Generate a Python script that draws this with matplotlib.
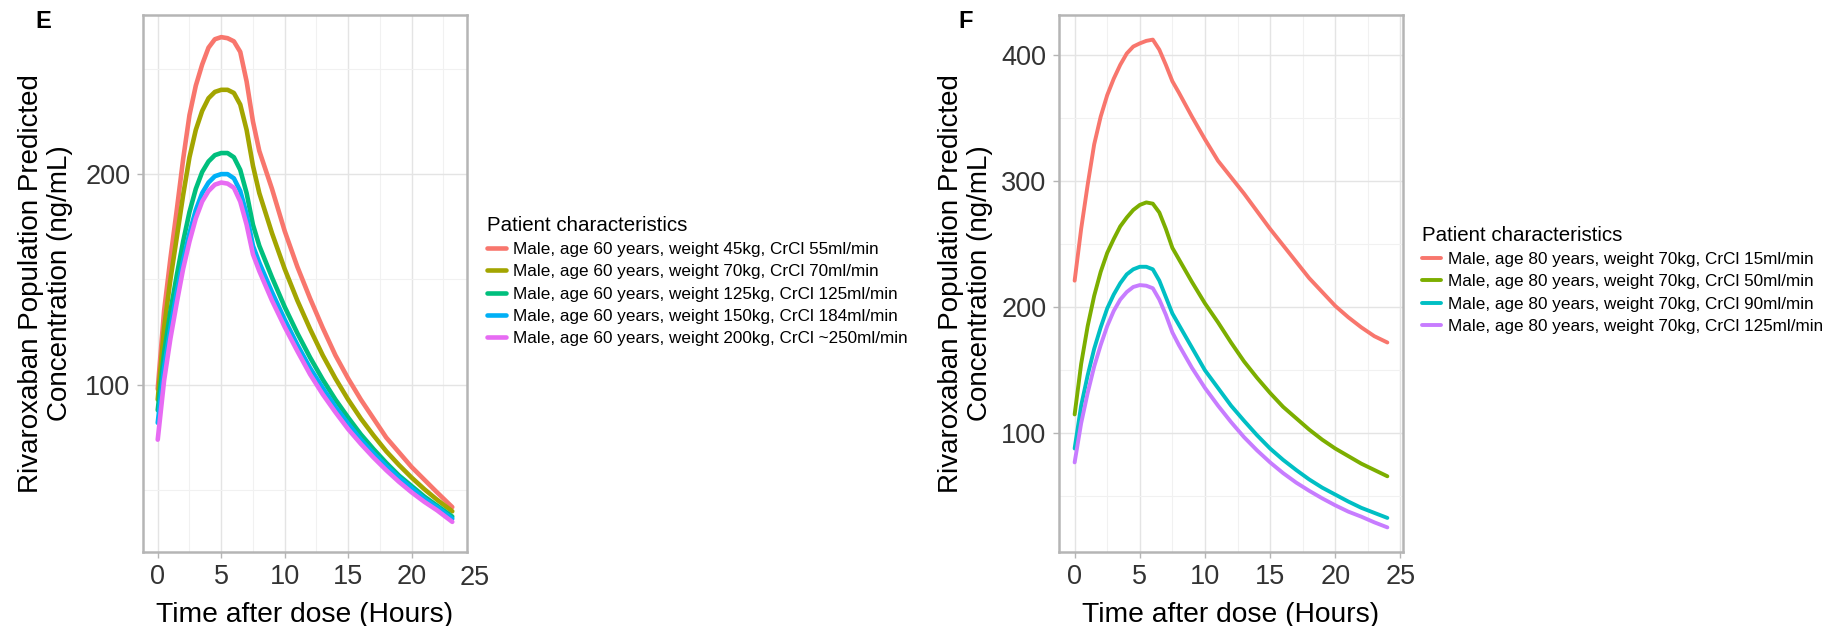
import matplotlib
matplotlib.use("Agg")
import matplotlib.pyplot as plt
from matplotlib.ticker import MultipleLocator

plt.rcParams["font.family"] = ["Liberation Sans", "DejaVu Sans"]

# ---- panel E: age 60, varying weight / CrCl ----
time_e = [0, 0.5, 1, 1.5, 2, 2.5, 3, 3.5, 4, 4.5, 5, 5.5, 6, 6.5, 7, 7.5, 8,
          9, 10, 11, 12, 13, 14, 15, 16, 17, 18, 19, 20, 21, 22, 23.2]
e_45kg  = [98, 135, 160, 183, 207, 228, 242, 252, 260, 264, 265, 264.5, 263, 258, 244, 225, 211,
           193, 173, 156, 141, 127, 114, 103, 93, 84, 75, 68, 61, 55, 49, 42]
e_70kg  = [93, 127, 150, 170, 190, 208, 221, 230, 236, 239, 240, 240, 238.5, 233, 221, 204, 191,
           172, 155, 140, 126.5, 114, 103, 93, 84, 76, 68.5, 62, 56, 50.5, 45.5, 40]
e_125kg = [88, 115, 135, 152, 168, 182, 193, 201, 206, 209, 210, 210, 208, 202, 191, 176, 166,
           151, 137, 124.5, 113, 102.5, 93, 84.5, 76.5, 69.5, 63, 57, 52, 47, 42.7, 37.5]
e_150kg = [82, 108, 127, 144, 159, 172, 183, 191, 196, 199, 200, 200, 198, 192, 181, 166, 158,
           144, 131, 119, 108, 98.5, 89.5, 81.5, 74, 67.5, 61.5, 56, 51, 46, 42, 36.5]
e_200kg = [74, 102, 122, 139, 155, 168, 179, 187, 192, 195, 196, 195.5, 193.5, 187, 176, 162, 154,
           140, 127.5, 116, 105, 95.5, 87, 79, 72, 65.5, 59.5, 54, 49, 44.5, 40.5, 35]
labels_e = ["Male, age 60 years, weight 45kg, CrCl 55ml/min",
            "Male, age 60 years, weight 70kg, CrCl 70ml/min",
            "Male, age 60 years, weight 125kg, CrCl 125ml/min",
            "Male, age 60 years, weight 150kg, CrCl 184ml/min",
            "Male, age 60 years, weight 200kg, CrCl ~250ml/min"]
colors_e = ["#F8766D", "#A3A500", "#00BF7D", "#00B0F6", "#E76BF3"]

# ---- panel F: age 80, 70kg, varying CrCl ----
time_f = [0, 0.5, 1, 1.5, 2, 2.5, 3, 3.5, 4, 4.5, 5, 5.5, 6, 6.5, 7, 7.5, 8,
          9, 10, 11, 12, 13, 14, 15, 16, 17, 18, 19, 20, 21, 22, 23, 24]
f_crcl15  = [221, 262, 297, 329, 351, 368, 381, 392, 401, 406.5, 409, 411, 412, 404, 392, 379, 370,
             351, 333, 316, 303, 290, 276, 262, 249, 236, 223, 212, 201, 192, 184, 177, 172]
f_crcl50  = [115, 155, 185, 209, 228, 243, 254, 264, 271, 277, 281, 283, 282, 275, 262, 247, 238,
             220, 203, 188, 172, 157, 144, 132, 121, 112, 103, 95, 88, 82, 76, 71, 66]
f_crcl90  = [88, 122, 146, 167, 184, 199, 210, 219, 226, 230, 232, 232, 230, 221, 208, 195, 186,
             168, 150, 136, 122, 110, 98.5, 88, 79, 71, 63.5, 57, 51.5, 46, 41, 37, 33]
f_crcl125 = [77, 108, 132, 153, 170, 185, 197, 206, 212, 216, 217.5, 217, 215, 206, 194, 180, 170,
             152, 136, 122, 109, 97, 86.5, 77, 68.5, 61, 54.5, 48.5, 43, 38, 34, 29.5, 25.5]
labels_f = ["Male, age 80 years, weight 70kg, CrCl 15ml/min",
            "Male, age 80 years, weight 70kg, CrCl 50ml/min",
            "Male, age 80 years, weight 70kg, CrCl 90ml/min",
            "Male, age 80 years, weight 70kg, CrCl 125ml/min"]
colors_f = ["#F8766D", "#7CAE00", "#00BFC4", "#C77CFF"]

YLABEL = "Rivaroxaban Population Predicted\nConcentration (ng/mL)"
XLABEL = "Time after dose (Hours)"
TICK_COLOR = "#333333"

fig = plt.figure(figsize=(18.37, 6.26), dpi=100)
axE = fig.add_axes([143/1837, 74/626, 324/1837, 537/626])
axF = fig.add_axes([1059/1837, 74/626, 344/1837, 537/626])


def style(ax, xticks, yticks, ylim, xlim, ylabelpad):
    ax.set_xlim(*xlim)
    ax.set_ylim(*ylim)
    ax.set_xticks(xticks)
    ax.set_yticks(yticks)
    ax.xaxis.set_minor_locator(MultipleLocator(2.5))
    ax.yaxis.set_minor_locator(MultipleLocator(50))
    ax.grid(which="major", color="#e4e4e4", lw=1.0)
    ax.grid(which="minor", color="#f1f1f1", lw=0.8)
    ax.set_axisbelow(True)
    for s in ax.spines.values():
        s.set_color("#b5b5b5")
        s.set_linewidth(1.8)
    ax.tick_params(which="major", length=4, width=1, color="#b5b5b5",
                   labelsize=19.5, labelcolor=TICK_COLOR, pad=5)
    ax.tick_params(which="minor", length=0)
    ax.set_xlabel(XLABEL, fontsize=20.3, labelpad=8)
    ax.set_ylabel(YLABEL, fontsize=20, labelpad=ylabelpad, linespacing=1.15)


for y, lab, c in zip([e_45kg, e_70kg, e_125kg, e_150kg, e_200kg], labels_e, colors_e):
    axE.plot(time_e, y, color=c, lw=3.3, label=lab, solid_capstyle="round")
style(axE, [0, 5, 10, 15, 20], [100, 200], (20.7, 275.5), (-1.16, 24.36), 9)
# the "25" label sits just past the panel edge in the original
axE.text(25, -0.0235, "25", transform=axE.get_xaxis_transform(), ha="center", va="top",
         fontsize=19.5, color=TICK_COLOR)

for y, lab, c in zip([f_crcl15, f_crcl50, f_crcl90, f_crcl125], labels_f, colors_f):
    axF.plot(time_f, y, color=c, lw=2.8, label=lab, solid_capstyle="round")
style(axF, [0, 5, 10, 15, 20, 25], [100, 200, 300, 400], (6, 431.5), (-1.2, 25.2), 6)

legkw = dict(title="Patient characteristics", loc="upper left", frameon=False,
             fontsize=12.3, title_fontsize=14.8, handlelength=1.1, handletextpad=0.45,
             labelspacing=0.42, borderpad=0, borderaxespad=0, alignment="left")
axE.legend(bbox_to_anchor=(487/1837, 1 - 216/626), bbox_transform=fig.transFigure, **legkw)
axF.legend(bbox_to_anchor=(1422/1837, 1 - 226/626), bbox_transform=fig.transFigure, **legkw)

fig.text(43/1837, 1 - 21/626, "E", fontsize=17, fontweight="bold", ha="center", va="center")
fig.text(966/1837, 1 - 22/626, "F", fontsize=17, fontweight="bold", ha="center", va="center")

fig.savefig("out.png", dpi=100, facecolor="white")
